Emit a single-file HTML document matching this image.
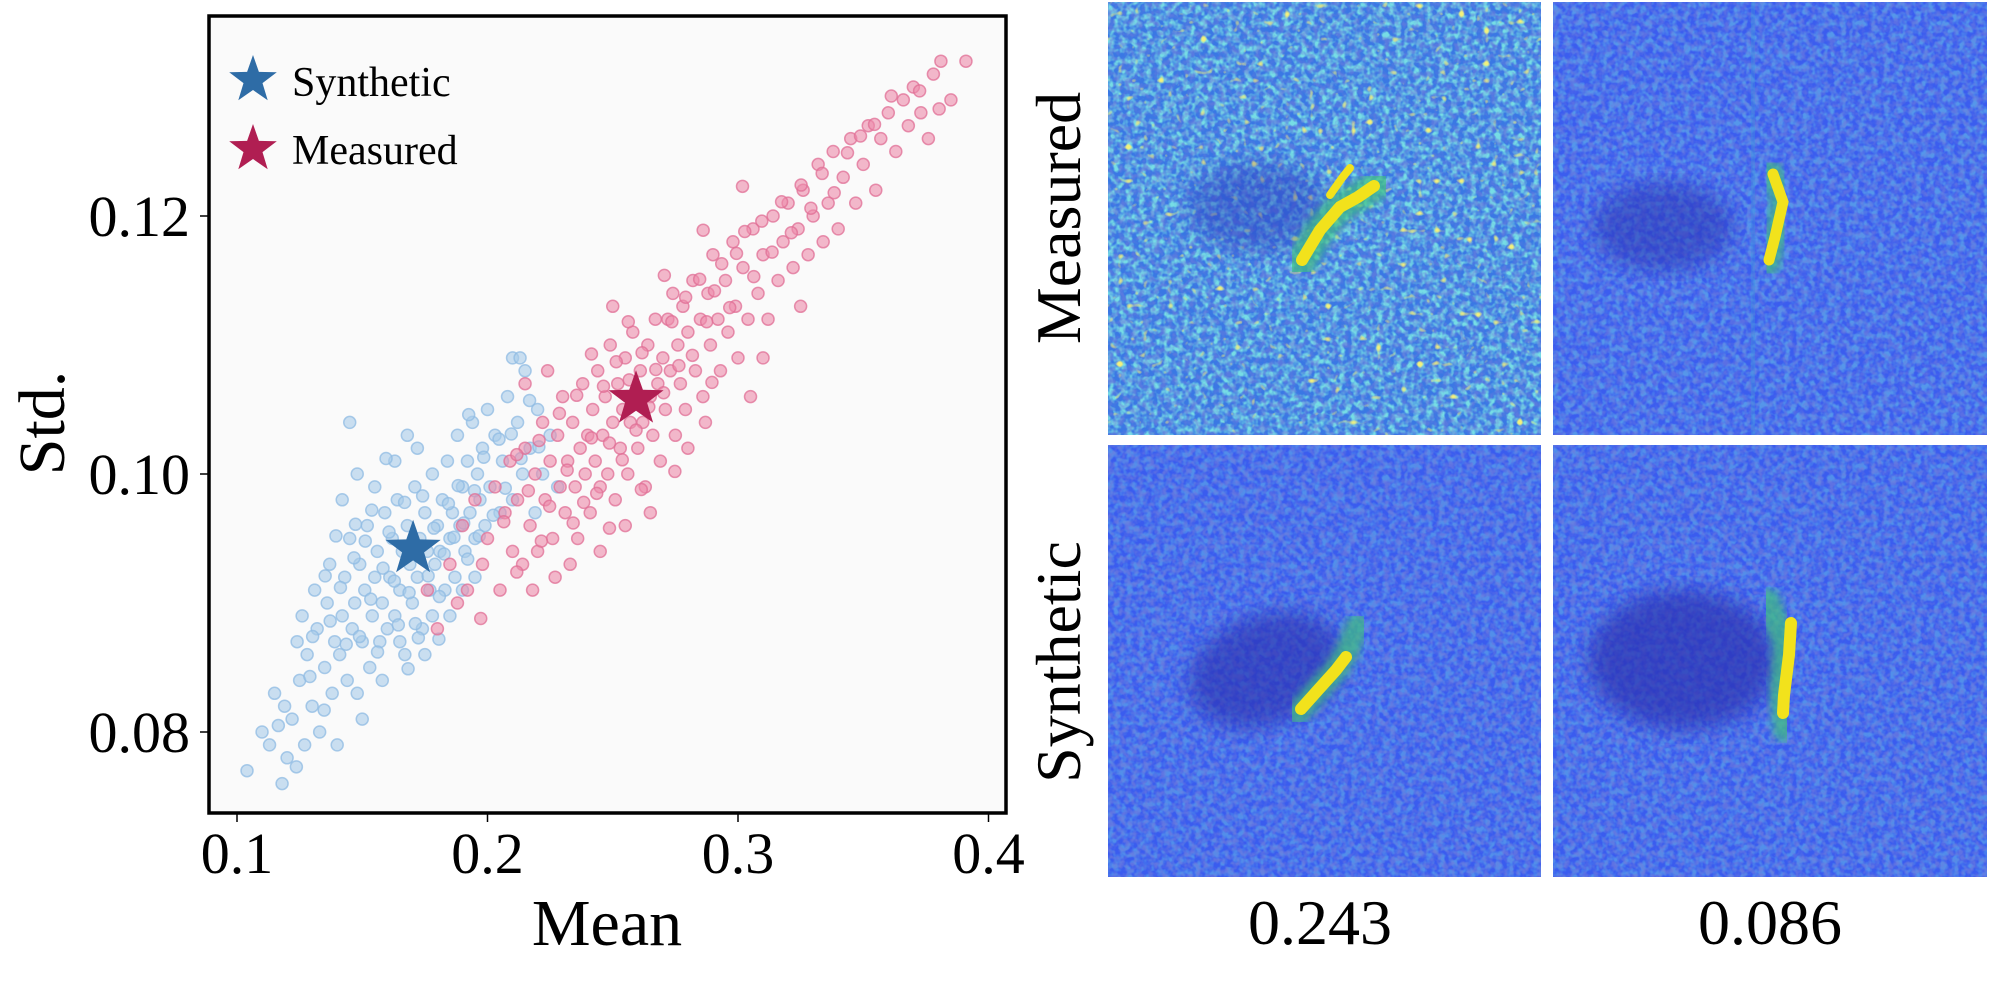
<!DOCTYPE html>
<html><head><meta charset="utf-8">
<style>
html,body{margin:0;padding:0;background:#fff;}
body{width:1995px;height:995px;overflow:hidden;font-family:"Liberation Serif","DejaVu Serif",serif;}
svg{position:absolute;left:0;top:0;}
text{font-family:"Liberation Serif","DejaVu Serif",serif;}
</style></head>
<body>
<svg width="1995" height="995" viewBox="0 0 1995 995" xmlns="http://www.w3.org/2000/svg" font-family="Liberation Serif, DejaVu Serif, serif">
<defs>
  <filter id="noiseTeal" x="0" y="0" width="100%" height="100%">
    <feTurbulence type="fractalNoise" baseFrequency="0.16" numOctaves="2" seed="3"/>
    <feColorMatrix type="matrix" values="0 0 0 0 0.18  0 0 0 0 0.72  0 0 0 0 0.78  3.2 0 0 0 -1.25"/>
  </filter>
  <filter id="noiseDark" x="0" y="0" width="100%" height="100%">
    <feTurbulence type="fractalNoise" baseFrequency="0.17" numOctaves="2" seed="7"/>
    <feColorMatrix type="matrix" values="0 0 0 0 0.16  0 0 0 0 0.2  0 0 0 0 0.72  3 0 0 0 -1.2"/>
  </filter>
  <filter id="noiseYellow" x="0" y="0" width="100%" height="100%">
    <feTurbulence type="fractalNoise" baseFrequency="0.12" numOctaves="1" seed="11"/>
    <feColorMatrix type="matrix" values="0 0 0 0 0.9  0 0 0 0 0.88  0 0 0 0 0.2  8 0 0 0 -5.4"/>
  </filter>
  <filter id="blur8"><feGaussianBlur stdDeviation="10"/></filter>
  <filter id="blur3"><feGaussianBlur stdDeviation="4"/></filter>
</defs>

<g id="scatter">
  <rect x="209" y="16" width="797" height="797" fill="#fafafa"/>
  <g id="points"></g>
  <g id="stars"></g>
  <rect x="209" y="16" width="797" height="797" fill="none" stroke="#000" stroke-width="3.5"/>
  <g id="xticks"></g>
  <g id="yticks"></g>
  <text x="607" y="945" font-size="66" text-anchor="middle">Mean</text>
  <text transform="translate(64,423) rotate(-90)" font-size="66" text-anchor="middle">Std.</text>
  <g>
    <g>
      <path id="legStar1" fill="#2e6ca6"/>
      <text x="292" y="96" font-size="42">Synthetic</text>
    </g>
    <g>
      <path id="legStar2" fill="#b01e52"/>
      <text x="292" y="164" font-size="42">Measured</text>
    </g>
  </g>
</g>

<g id="heatmaps">
  <g>
    <svg x="1108" y="2" width="433" height="433">
      <rect width="433" height="433" fill="#3a78e4"/>
      <rect width="433" height="433" filter="url(#noiseTeal)"/>
      <rect width="433" height="433" filter="url(#noiseDark)" opacity="0.6"/>
      <rect width="433" height="433" filter="url(#noiseYellow)"/>
      <ellipse cx="150" cy="205" rx="70" ry="45" fill="#2c3cc0" opacity="0.45" filter="url(#blur8)"/>
      <polyline points="192,262 212,228 232,205 250,195 270,182" stroke="#40c080" stroke-width="30" fill="none" stroke-linecap="round" filter="url(#blur3)" opacity="0.7"/>
      <polyline points="194,258 212,228 232,205 250,195 266,184" stroke="#f2e21c" stroke-width="12" fill="none" stroke-linecap="round"/>
      <polyline points="222,193 234,176 242,166" stroke="#f2e21c" stroke-width="8" fill="none" stroke-linecap="round"/>
    </svg>
  </g>
  <g>
    <svg x="1553" y="2" width="434" height="433">
      <rect width="434" height="433" fill="#3b5def"/>
      <rect width="434" height="433" filter="url(#noiseTeal)" opacity="0.45"/>
      <rect width="434" height="433" filter="url(#noiseDark)" opacity="0.6"/>
      <ellipse cx="110" cy="225" rx="70" ry="45" fill="#2a30b0" opacity="0.5" filter="url(#blur8)"/>
      <line x1="200" y1="0" x2="200" y2="433" stroke="#3f90e0" stroke-width="4" opacity="0.4"/>
      <polyline points="218,170 230,200 222,235 215,262" stroke="#40c080" stroke-width="24" fill="none" stroke-linecap="round" filter="url(#blur3)" opacity="0.7"/>
      <polyline points="220,172 230,200 222,235 216,258" stroke="#f2e21c" stroke-width="11" fill="none" stroke-linecap="round"/>
    </svg>
  </g>
  <g>
    <svg x="1108" y="445" width="433" height="432">
      <rect width="433" height="432" fill="#3a5cef"/>
      <rect width="433" height="432" filter="url(#noiseTeal)" opacity="0.4"/>
      <rect width="433" height="432" filter="url(#noiseDark)" opacity="0.7"/>
      <ellipse cx="158" cy="225" rx="80" ry="55" fill="#2a2fae" opacity="0.6" filter="url(#blur8)" transform="rotate(-20 158 225)"/>
      <polyline points="190,268 210,245 228,225 240,205 250,180" stroke="#40c080" stroke-width="24" fill="none" stroke-linecap="round" filter="url(#blur3)" opacity="0.7"/>
      <polyline points="193,264 210,245 228,225 238,212" stroke="#f2e21c" stroke-width="12" fill="none" stroke-linecap="round"/>
    </svg>
  </g>
  <g>
    <svg x="1553" y="445" width="434" height="432">
      <rect width="434" height="432" fill="#3a5cef"/>
      <rect width="434" height="432" filter="url(#noiseTeal)" opacity="0.4"/>
      <rect width="434" height="432" filter="url(#noiseDark)" opacity="0.7"/>
      <ellipse cx="130" cy="215" rx="95" ry="70" fill="#2a2fae" opacity="0.65" filter="url(#blur8)"/>
      <polyline points="215,155 232,200 228,250 232,285" stroke="#40c080" stroke-width="24" fill="none" stroke-linecap="round" filter="url(#blur3)" opacity="0.7"/>
      <polyline points="238,178 236,210 231,250 230,268" stroke="#f2e21c" stroke-width="12" fill="none" stroke-linecap="round"/>
    </svg>
  </g>
  <text transform="translate(1080,218) rotate(-90)" font-size="64" text-anchor="middle">Measured</text>
  <text transform="translate(1080,662) rotate(-90)" font-size="64" text-anchor="middle">Synthetic</text>
  <text x="1320" y="944" font-size="64" text-anchor="middle">0.243</text>
  <text x="1770" y="944" font-size="64" text-anchor="middle">0.086</text>
</g>
</svg>

<script>
const xTicks = [0.1, 0.2, 0.3, 0.4];
const xTickLabels = ["0.1", "0.2", "0.3", "0.4"];
const yTicks = [0.08, 0.10, 0.12];
const yTickLabels = ["0.08", "0.10", "0.12"];
const syntheticPoints = [
[0.104,0.077],[0.11,0.080],[0.113,0.079],[0.118,0.076],[0.119,0.082],[0.12,0.078],[0.115,0.083],
[0.122,0.081],[0.125,0.084],[0.127,0.079],[0.128,0.086],[0.13,0.082],[0.132,0.088],[0.133,0.080],[0.135,0.085],[0.136,0.090],[0.138,0.083],[0.139,0.087],[0.14,0.079],[0.124,0.087],[0.131,0.091],[0.137,0.093],[0.126,0.089],
[0.141,0.086],[0.142,0.089],[0.143,0.092],[0.144,0.084],[0.145,0.095],[0.146,0.088],[0.147,0.090],[0.148,0.083],[0.149,0.093],[0.15,0.087],[0.151,0.091],[0.152,0.096],[0.153,0.085],[0.154,0.089],[0.155,0.092],[0.156,0.094],[0.157,0.087],[0.158,0.090],[0.159,0.097],[0.16,0.088],[0.142,0.098],[0.148,0.100],[0.145,0.104],[0.155,0.099],[0.158,0.084],[0.15,0.081],
[0.161,0.092],[0.162,0.095],[0.163,0.089],[0.164,0.098],[0.165,0.091],[0.166,0.094],[0.167,0.086],[0.168,0.096],[0.169,0.093],[0.17,0.090],[0.171,0.099],[0.172,0.092],[0.173,0.095],[0.174,0.088],[0.175,0.097],[0.176,0.094],[0.177,0.091],[0.178,0.100],[0.179,0.093],[0.18,0.096],[0.163,0.101],[0.168,0.103],[0.175,0.086],[0.178,0.089],[0.165,0.087],[0.172,0.102],
[0.181,0.094],[0.182,0.098],[0.183,0.091],[0.184,0.101],[0.185,0.095],[0.186,0.097],[0.187,0.092],[0.188,0.103],[0.189,0.096],[0.19,0.099],[0.191,0.094],[0.192,0.101],[0.193,0.097],[0.194,0.104],[0.195,0.095],[0.196,0.100],[0.197,0.098],[0.198,0.102],[0.199,0.096],[0.2,0.105],[0.185,0.089],[0.19,0.091],[0.195,0.092],
[0.201,0.099],[0.203,0.103],[0.205,0.097],[0.206,0.101],[0.208,0.106],[0.21,0.098],[0.212,0.104],[0.214,0.100],[0.215,0.108],[0.217,0.102],[0.219,0.097],[0.22,0.105],[0.222,0.100],[0.225,0.103],[0.228,0.099],[0.21,0.109],[0.213,0.109],
[0.1165,0.0805],[0.1237,0.0773],[0.1291,0.0843],[0.1348,0.0817],[0.1372,0.0886],[0.1413,0.0912],[0.1436,0.0868],[0.1467,0.0935],[0.1489,0.0874],[0.1512,0.0948],[0.1534,0.0903],[0.1561,0.0862],[0.1583,0.0927],[0.1607,0.0955],[0.1628,0.0917],[0.1644,0.0883],[0.1669,0.0978],[0.1687,0.0908],[0.1706,0.0946],[0.1724,0.0873],[0.1741,0.0983],[0.1763,0.0921],[0.1786,0.0958],[0.1808,0.0905],[0.1827,0.0938],[0.1844,0.0977],[0.1866,0.0951],[0.1883,0.0991],[0.1905,0.0962],[0.1921,0.0934],[0.1948,0.0987],[0.1967,0.0952],[0.1985,0.1013],[0.2023,0.0968],[0.2046,0.1027],[0.2071,0.0989],[0.2095,0.1031],[0.2134,0.1012],[0.2168,0.1057],[0.2205,0.1021],[0.1595,0.1012],[0.1538,0.0972],[0.1473,0.0961],[0.1395,0.0952],[0.1352,0.0921],[0.1302,0.0874],[0.1683,0.0849],[0.1712,0.0884],[0.1806,0.0872],[0.1925,0.1046]
];
const measuredPoints = [
[0.18,0.088],[0.185,0.093],[0.19,0.096],[0.192,0.091],[0.195,0.098],[0.198,0.093],[0.2,0.095],[0.203,0.099],[0.205,0.091],[0.207,0.097],[0.209,0.101],[0.21,0.094],[0.176,0.091],[0.188,0.090],
[0.212,0.098],[0.214,0.093],[0.215,0.102],[0.217,0.096],[0.219,0.100],[0.22,0.094],[0.222,0.104],[0.223,0.098],[0.225,0.101],[0.226,0.095],[0.228,0.103],[0.229,0.099],[0.23,0.106],[0.231,0.097],[0.232,0.101],[0.234,0.104],[0.235,0.099],[0.236,0.095],[0.237,0.102],[0.238,0.107],[0.239,0.100],[0.24,0.103],[0.218,0.091],[0.227,0.092],[0.233,0.093],[0.215,0.107],[0.224,0.108],
[0.241,0.097],[0.242,0.105],[0.243,0.101],[0.244,0.108],[0.245,0.099],[0.246,0.103],[0.247,0.106],[0.248,0.100],[0.249,0.110],[0.25,0.104],[0.251,0.098],[0.252,0.107],[0.253,0.102],[0.254,0.105],[0.255,0.109],[0.256,0.100],[0.257,0.104],[0.258,0.111],[0.259,0.106],[0.26,0.102],[0.261,0.108],[0.262,0.104],[0.263,0.099],[0.264,0.110],[0.265,0.106],[0.266,0.103],[0.267,0.112],[0.268,0.107],[0.269,0.101],[0.27,0.109],[0.245,0.094],[0.255,0.096],[0.265,0.097],[0.25,0.113],
[0.271,0.105],[0.272,0.112],[0.273,0.108],[0.274,0.114],[0.275,0.103],[0.276,0.110],[0.277,0.107],[0.278,0.113],[0.279,0.105],[0.28,0.111],[0.282,0.115],[0.283,0.108],[0.285,0.112],[0.286,0.106],[0.288,0.114],[0.289,0.110],[0.29,0.117],[0.292,0.112],[0.293,0.108],[0.295,0.115],[0.296,0.111],[0.298,0.118],[0.299,0.113],[0.3,0.109],[0.28,0.102],[0.287,0.104],[0.305,0.106],
[0.302,0.116],[0.304,0.112],[0.306,0.119],[0.308,0.114],[0.31,0.117],[0.312,0.112],[0.314,0.120],[0.316,0.115],[0.318,0.118],[0.32,0.121],[0.322,0.116],[0.324,0.119],[0.326,0.122],[0.328,0.117],[0.33,0.120],[0.332,0.124],[0.334,0.118],[0.336,0.121],[0.338,0.125],[0.34,0.119],[0.31,0.109],[0.325,0.113],
[0.342,0.123],[0.345,0.126],[0.347,0.121],[0.35,0.124],[0.352,0.127],[0.355,0.122],[0.357,0.126],[0.36,0.128],[0.363,0.125],[0.366,0.129],[0.368,0.127],[0.37,0.130],[0.373,0.128],[0.376,0.126],[0.378,0.131],[0.381,0.132],[0.385,0.129],[0.391,0.132],
[0.2065,0.0963],[0.2117,0.1015],[0.2163,0.0987],[0.2206,0.1026],[0.2248,0.0975],[0.2287,0.1047],[0.2318,0.1003],[0.2356,0.1061],[0.2384,0.0978],[0.2415,0.1028],[0.2436,0.0985],[0.2463,0.1068],[0.2487,0.1024],[0.2514,0.1087],[0.2538,0.1011],[0.2566,0.1073],[0.2593,0.1034],[0.2617,0.1094],[0.2644,0.1052],[0.2672,0.1081],[0.2703,0.1063],[0.2736,0.1118],[0.2764,0.1084],[0.2791,0.1137],[0.2818,0.1092],[0.2847,0.1151],[0.2875,0.1118],[0.2906,0.1142],[0.2935,0.1163],[0.2967,0.1129],[0.2994,0.1171],[0.3027,0.1188],[0.3063,0.1153],[0.3095,0.1196],[0.3136,0.1172],[0.3174,0.1211],[0.3213,0.1187],[0.3252,0.1224],[0.3291,0.1206],[0.3336,0.1233],[0.3384,0.1218],[0.3437,0.1249],[0.3489,0.1262],[0.3545,0.1271],[0.3612,0.1293],[0.3725,0.1297],[0.3803,0.1283],[0.2342,0.0962],[0.2487,0.0958],[0.2614,0.0988],[0.2748,0.1002],[0.2896,0.1071],[0.2215,0.0948],[0.2117,0.0924],[0.1973,0.0888],[0.2562,0.1118],[0.2415,0.1093],[0.2706,0.1154],[0.2861,0.1189],[0.3018,0.1223]
];
const syntheticMean = [0.1703, 0.0942];
const measuredMean = [0.2593, 0.1058];

const NS = "http://www.w3.org/2000/svg";
function xScale(v){ return 237 + (v - 0.1) * 2505; }
function yScale(v){ return 474 - (v - 0.10) * 12900; }
function starPath(cx, cy, R){
  const r = R * 0.4; let d = "";
  for (let i = 0; i < 10; i++){
    const a = -Math.PI/2 + i * Math.PI/5;
    const rr = i % 2 ? r : R;
    d += (i ? "L" : "M") + (cx + rr*Math.cos(a)).toFixed(1) + "," + (cy + rr*Math.sin(a)).toFixed(1);
  }
  return d + "Z";
}
const pts = document.getElementById("points");
function drawSeries(arr, fill, stroke, name){
  const g = document.createElementNS(NS, "g");
  
  
  arr.forEach(p => {
    const c = document.createElementNS(NS, "circle");
    c.setAttribute("cx", xScale(p[0]));
    c.setAttribute("cy", yScale(p[1]));
    c.setAttribute("r", 6);
    c.setAttribute("fill", fill);
    c.setAttribute("fill-opacity", "0.6");
    c.setAttribute("stroke", stroke);
    c.setAttribute("stroke-opacity", "0.75");
    c.setAttribute("stroke-width", "1.5");
    
    
    g.appendChild(c);
  });
  pts.appendChild(g);
}
drawSeries(syntheticPoints, "#a9cbe9", "#8fbbe3", "series-synthetic");
drawSeries(measuredPoints, "#ec8aaa", "#e06f96", "series-measured");

const stars = document.getElementById("stars");
[[syntheticMean, "#2e6ca6", "star-synthetic-mean"], [measuredMean, "#b01e52", "star-measured-mean"]].forEach(s => {
  const p = document.createElementNS(NS, "path");
  p.setAttribute("d", starPath(xScale(s[0][0]), yScale(s[0][1]), 29));
  p.setAttribute("fill", s[1]);
  
  
  stars.appendChild(p);
});
document.getElementById("legStar1").setAttribute("d", starPath(253, 80, 25));
document.getElementById("legStar2").setAttribute("d", starPath(253, 149, 25));

const xg = document.getElementById("xticks");
xTicks.forEach((v, i) => {
  const x = xScale(v);
  const l = document.createElementNS(NS, "line");
  l.setAttribute("x1", x); l.setAttribute("x2", x);
  l.setAttribute("y1", 813); l.setAttribute("y2", 822);
  l.setAttribute("stroke", "#000"); l.setAttribute("stroke-width", "1.5");
  
  
  xg.appendChild(l);
  const t = document.createElementNS(NS, "text");
  t.setAttribute("x", x); t.setAttribute("y", 873);
  t.setAttribute("font-size", "58"); t.setAttribute("text-anchor", "middle");
  t.textContent = xTickLabels[i];
  
  
  xg.appendChild(t);
});
const yg = document.getElementById("yticks");
yTicks.forEach((v, i) => {
  const y = yScale(v);
  const l = document.createElementNS(NS, "line");
  l.setAttribute("x1", 200); l.setAttribute("x2", 209);
  l.setAttribute("y1", y); l.setAttribute("y2", y);
  l.setAttribute("stroke", "#000"); l.setAttribute("stroke-width", "1.5");
  
  
  yg.appendChild(l);
  const t = document.createElementNS(NS, "text");
  t.setAttribute("x", 190); t.setAttribute("y", y + 20);
  t.setAttribute("font-size", "58"); t.setAttribute("text-anchor", "end");
  t.textContent = yTickLabels[i];
  
  
  yg.appendChild(t);
});
</script>
</body></html>
